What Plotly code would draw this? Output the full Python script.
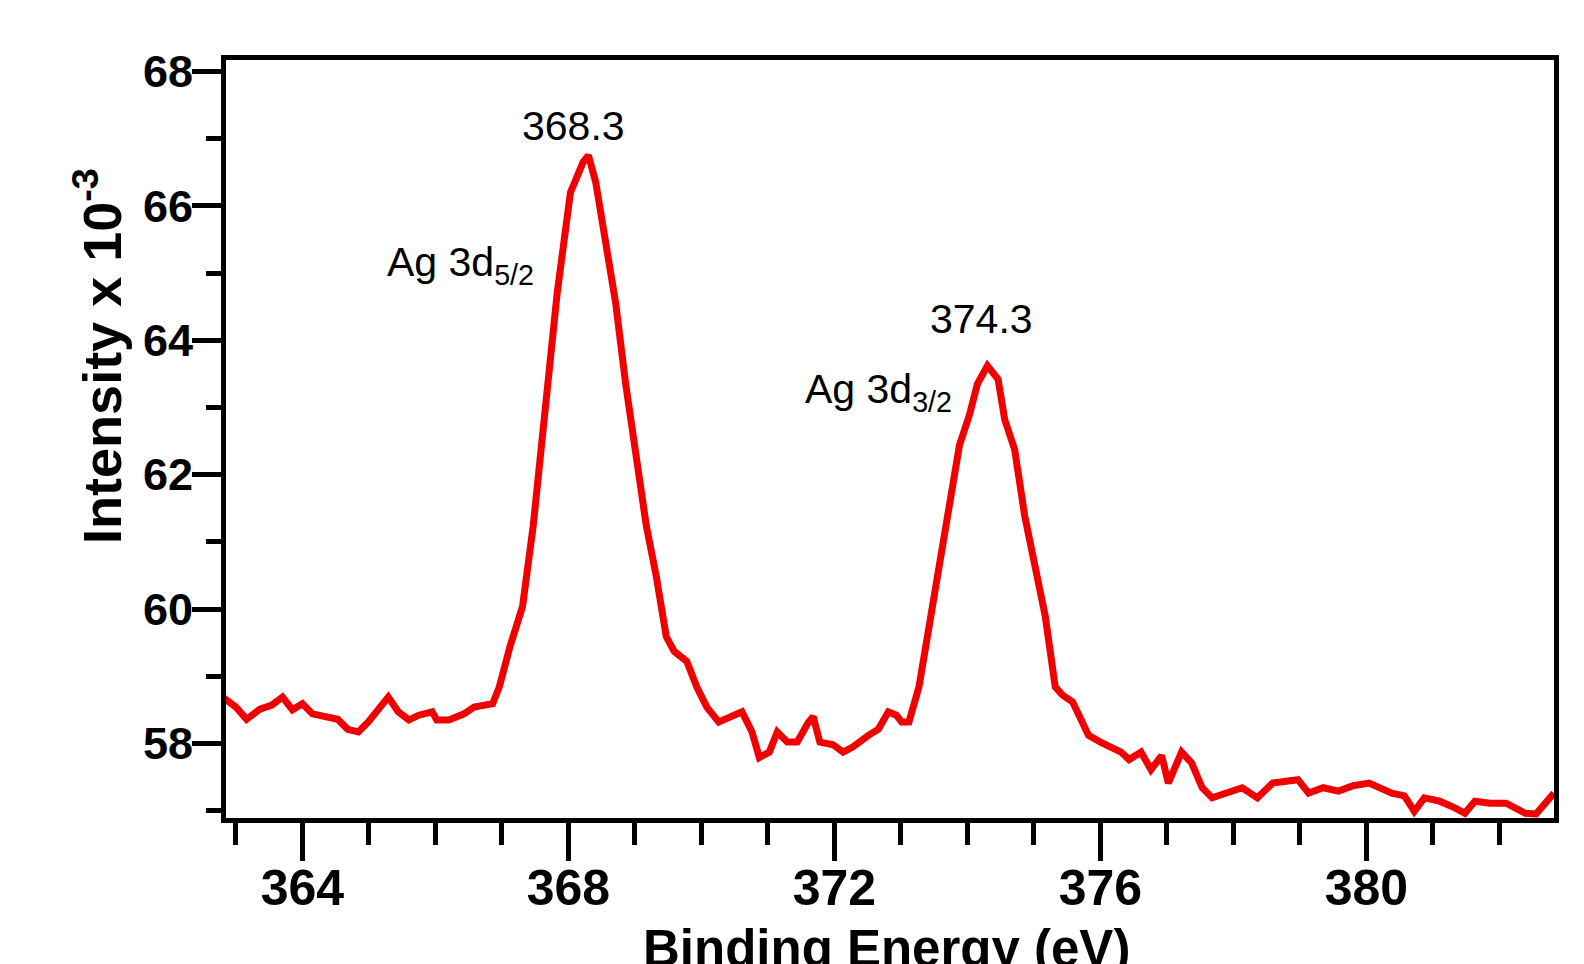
import plotly.graph_objects as go

binding_energy = [362.8, 363.0, 363.16, 363.36, 363.54, 363.7, 363.85, 364.0, 364.15, 364.38, 364.53,
                  364.68, 364.84, 364.99, 365.14, 365.29, 365.44, 365.6, 365.75, 365.95, 366.02, 366.2,
                  366.43, 366.58, 366.86, 366.96, 367.12, 367.31, 367.47, 367.65, 367.83, 368.03, 368.22,
                  368.3, 368.41, 368.56, 368.71, 368.86, 369.02, 369.17, 369.32, 369.47, 369.59, 369.78,
                  369.93, 370.08, 370.26, 370.41, 370.61, 370.76, 370.87, 371.02, 371.14, 371.29, 371.44,
                  371.6, 371.68, 371.78, 371.98, 372.13, 372.28, 372.51, 372.66, 372.81, 372.93, 373.01,
                  373.12, 373.27, 373.42, 373.57, 373.73, 373.88, 374.03, 374.15, 374.3, 374.46, 374.56,
                  374.71, 374.86, 375.02, 375.17, 375.32, 375.43, 375.58, 375.7, 375.82, 376.0, 376.16,
                  376.31, 376.43, 376.61, 376.76, 376.92, 377.02, 377.22, 377.37, 377.53, 377.68, 377.9,
                  378.13, 378.36, 378.59, 378.82, 378.97, 379.13, 379.35, 379.58, 379.8, 380.04, 380.23,
                  380.38, 380.57, 380.72, 380.87, 381.1, 381.33, 381.48, 381.63, 381.86, 382.1, 382.24,
                  382.39, 382.55, 382.7, 382.82]
intensity = [58.69, 58.54, 58.36, 58.51, 58.57, 58.69, 58.5, 58.59, 58.44, 58.39, 58.36,
             58.21, 58.17, 58.32, 58.5, 58.69, 58.47, 58.35, 58.42, 58.47, 58.35, 58.35,
             58.44, 58.54, 58.59, 58.84, 59.44, 60.04, 61.24, 63.04, 64.7, 66.2, 66.65,
             66.75, 66.35, 65.45, 64.55, 63.35, 62.29, 61.24, 60.49, 59.59, 59.37, 59.22,
             58.84, 58.54, 58.32, 58.39, 58.47, 58.17, 57.79, 57.87, 58.17, 58.02, 58.02,
             58.3, 58.4, 58.02, 57.98, 57.87, 57.95, 58.12, 58.21, 58.47, 58.42, 58.32,
             58.32, 58.84, 59.74, 60.64, 61.54, 62.44, 62.89, 63.35, 63.62, 63.42, 62.82,
             62.37, 61.39, 60.64, 59.89, 58.84, 58.72, 58.62, 58.39, 58.12, 58.02, 57.94,
             57.87, 57.76, 57.87, 57.61, 57.82, 57.41, 57.87, 57.71, 57.34, 57.19, 57.26,
             57.34, 57.19, 57.41, 57.44, 57.46, 57.26, 57.34, 57.29, 57.37, 57.41, 57.34,
             57.26, 57.22, 56.99, 57.19, 57.14, 57.04, 56.96, 57.14, 57.11, 57.11, 57.04,
             56.96, 56.95, 57.11, 57.26]

x_tickvals = [364, 368, 372, 376, 380]
y_tickvals = [58, 60, 62, 64, 66, 68]
peak_labels = ["368.3", "374.3"]
peak_names = ["Ag 3d<sub>5/2</sub>", "Ag 3d<sub>3/2</sub>"]

FONT = "Liberation Sans, Arial, Helvetica, sans-serif"

fig = go.Figure()
fig.add_trace(go.Scatter(x=binding_energy, y=intensity, mode="lines",
                         line=dict(color="#f00000", width=7), showlegend=False))

fig.update_xaxes(range=[362.85, 382.82], tickmode="array", tickvals=x_tickvals,
                 ticktext=[str(v) for v in x_tickvals],
                 showgrid=False, zeroline=False, showline=True, linecolor="black", linewidth=5,
                 mirror=True, ticks="outside", ticklen=38, tickwidth=5, tickcolor="black",
                 ticklabelstandoff=-16,
                 tickfont=dict(family=FONT, size=50, color="black", weight="bold"),
                 minor=dict(dtick=1, tick0=364, ticks="outside", ticklen=22, tickwidth=5,
                            tickcolor="black", showgrid=False))
fig.update_yaxes(range=[56.89, 68.17], tickmode="array", tickvals=y_tickvals,
                 ticktext=[str(v) for v in y_tickvals],
                 showgrid=False, zeroline=False, showline=True, linecolor="black", linewidth=5,
                 mirror=True, ticks="outside", ticklen=29, tickwidth=5, tickcolor="black",
                 ticklabelstandoff=-10,
                 tickfont=dict(family=FONT, size=45, color="black", weight="bold"),
                 minor=dict(dtick=1, tick0=57, ticks="outside", ticklen=15, tickwidth=5,
                            tickcolor="black", showgrid=False))

ann_font = dict(family=FONT, size=41, color="black")
fig.add_annotation(x=368.07, y=67.19, xref="x", yref="y", text=peak_labels[0],
                   showarrow=False, font=ann_font, xanchor="center", yanchor="middle")
fig.add_annotation(x=374.21, y=64.31, xref="x", yref="y", text=peak_labels[1],
                   showarrow=False, font=ann_font, xanchor="center", yanchor="middle")
fig.add_annotation(x=365.24, y=65.12, xref="x", yref="y", text=peak_names[0],
                   showarrow=False, font=ann_font, xanchor="left", yanchor="middle")
fig.add_annotation(x=371.53, y=63.23, xref="x", yref="y", text=peak_names[1],
                   showarrow=False, font=ann_font, xanchor="left", yanchor="middle")

fig.add_annotation(x=-0.096, y=0.609, xref="paper", yref="paper",
                   text="<b>Intensity x 10<sup>-3</sup></b>", textangle=-90, showarrow=False,
                   font=dict(family=FONT, size=54, color="black"), xanchor="center", yanchor="middle")
fig.add_annotation(x=0.497, y=-0.172, xref="paper", yref="paper",
                   text="<b>Binding Energy (eV)</b>", showarrow=False,
                   font=dict(family=FONT, size=51, color="black"), xanchor="center", yanchor="middle")

fig.update_layout(width=1584, height=964, margin=dict(l=226, r=30, t=60, b=146),
                  paper_bgcolor="white", plot_bgcolor="white")

fig.write_html("out.html")
